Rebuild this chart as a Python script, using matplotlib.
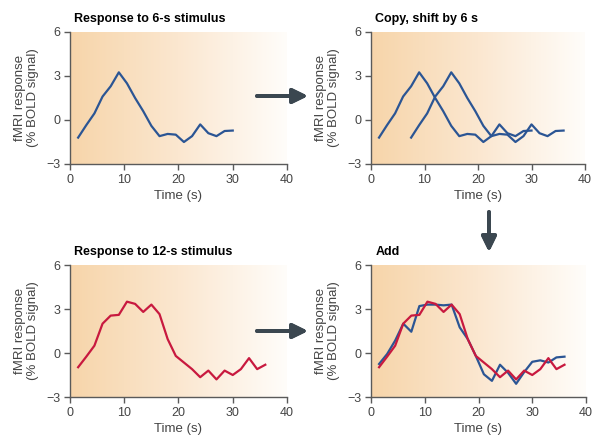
import numpy as np
import matplotlib.pyplot as plt
from matplotlib.colors import LinearSegmentedColormap

plt.rcParams['font.family'] = ['Liberation Sans', 'DejaVu Sans']

# sample times (s)
time_6s = [1.5, 3, 4.5, 6, 7.5, 9, 10.5, 12, 13.5, 15, 16.5, 18, 19.5, 21,
           22.5, 24, 25.5, 27, 28.5, 30]
resp_6s = [-1.2, -0.35, 0.45, 1.6, 2.3, 3.25, 2.5, 1.5, 0.6, -0.4, -1.1,
           -0.95, -1.0, -1.5, -1.1, -0.3, -0.9, -1.1, -0.75, -0.72]
time_shifted = [7.5, 9, 10.5, 12, 13.5, 15, 16.5, 18, 19.5, 21, 22.5, 24,
                25.5, 27, 28.5, 30, 31.5, 33, 34.5, 36]

time_12s = [1.5, 3, 4.5, 6, 7.5, 9, 10.5, 12, 13.5, 15, 16.5, 18, 19.5, 21,
            22.5, 24, 25.5, 27, 28.5, 30, 31.5, 33, 34.5, 36]
resp_12s = [-0.97, -0.25, 0.5, 2.0, 2.55, 2.6, 3.5, 3.35, 2.8, 3.3, 2.65,
            0.95, -0.2, -0.65, -1.1, -1.65, -1.2, -1.8, -1.2, -1.5, -1.1,
            -0.35, -1.1, -0.8]
resp_sum = [-0.75, -0.07, 0.85, 2.0, 1.45, 3.2, 3.3, 3.3, 3.25, 3.3, 1.75,
            0.95, -0.2, -1.45, -1.9, -0.8, -1.35, -2.1, -1.3, -0.6, -0.5,
            -0.65, -0.3, -0.25]

titles = ['Response to 6-s stimulus', 'Copy, shift by 6 s',
          'Response to 12-s stimulus', 'Add']

blue = '#2b5594'
red = '#c8193f'
axis_grey = '#5a5a5a'
arrow_col = '#3b4750'

bg_cmap = LinearSegmentedColormap.from_list('bg', ['#f7d5aa', '#fbe7d0', '#fffdfa'])

W, H = 595, 438
fig = plt.figure(figsize=(W / 100, H / 100), dpi=100)

# axes boxes in pixels: left, right, top, bottom
boxes = [(70, 287, 32, 164), (371, 585, 32, 164),
         (70, 287, 265, 397), (371, 586, 265, 397)]

axes = []
for (l, r, t, b), title in zip(boxes, titles):
    ax = fig.add_axes([l / W, (H - b) / H, (r - l) / W, (b - t) / H])
    grad = np.linspace(0, 1, 256).reshape(1, -1)
    ax.imshow(grad, cmap=bg_cmap, aspect='auto', extent=[0, 40, -3, 6],
              zorder=0, interpolation='bicubic')
    ax.set_xlim(0, 40)
    ax.set_ylim(-3, 6)
    ax.set_xticks([0, 10, 20, 30, 40])
    ax.set_yticks([-3, 0, 3, 6])
    for s in ['top', 'right']:
        ax.spines[s].set_visible(False)
    for s in ['left', 'bottom']:
        ax.spines[s].set_color(axis_grey)
        ax.spines[s].set_linewidth(1.0)
    ax.tick_params(direction='out', length=4, width=1.0, color=axis_grey,
                   labelcolor='#444444', labelsize=9, pad=3)
    ax.set_xlabel('Time (s)', fontsize=9.5, color='#444444', labelpad=3)
    ax.set_ylabel('fMRI response\n(% BOLD signal)', fontsize=9.5,
                  color='#444444', labelpad=5, linespacing=1.15)
    ax.text(0.02, 1.05, title, transform=ax.transAxes, fontsize=9,
            fontweight='bold', ha='left', va='bottom')
    axes.append(ax)

lw = 1.6
axes[0].plot(time_6s, resp_6s, color=blue, lw=lw)
axes[1].plot(time_6s, resp_6s, color=blue, lw=lw)
axes[1].plot(time_shifted, resp_6s, color=blue, lw=lw)
axes[2].plot(time_12s, resp_12s, color=red, lw=lw)
axes[3].plot(time_12s, resp_sum, color=blue, lw=lw)
axes[3].plot(time_12s, resp_12s, color=red, lw=lw)

# arrows between panels (figure pixel coords, origin bottom-left)
arrow_props = dict(arrowstyle='-|>,head_length=0.45,head_width=0.22',
                   color=arrow_col, lw=2.8, mutation_scale=20,
                   shrinkA=0, shrinkB=0)
fig.add_artist(plt.annotate('', xy=(308, H - 96), xytext=(257, H - 96),
                            xycoords='figure pixels', textcoords='figure pixels',
                            arrowprops=arrow_props))
fig.add_artist(plt.annotate('', xy=(489, H - 252), xytext=(489, H - 212),
                            xycoords='figure pixels', textcoords='figure pixels',
                            arrowprops=arrow_props))
fig.add_artist(plt.annotate('', xy=(308, H - 331), xytext=(257, H - 331),
                            xycoords='figure pixels', textcoords='figure pixels',
                            arrowprops=arrow_props))

fig.savefig('out.png', dpi=100)
